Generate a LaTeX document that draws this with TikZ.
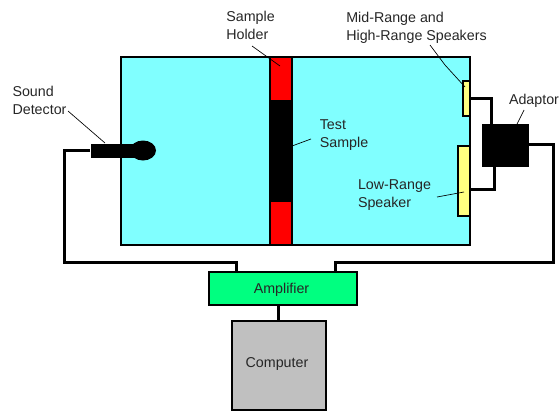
\documentclass[tikz,border=0pt]{standalone}
\usepackage{fontspec}
\setmainfont{Liberation Sans}
\newcommand{\pxw}[1]{#1*0.75pt}
\definecolor{chambercol}{HTML}{80FFFF}
\definecolor{holdercol}{HTML}{FF0000}
\definecolor{speakercol}{HTML}{FFFF80}
\definecolor{ampcol}{HTML}{00FF80}
\definecolor{compcol}{HTML}{C0C0C0}
\tikzset{
  x=0.75pt,y=-0.75pt,
  box/.style={draw=black,line width=1.5pt,inner sep=0pt,outer sep=0pt},
  solid block/.style={fill=black,draw=none,inner sep=0pt,outer sep=0pt},
  wire/.style={draw=black,line width=2.25pt,line join=miter},
  leader/.style={draw=black,line width=0.5pt},
  lbl/.style={font=\fontsize{10.7pt}{13.5pt}\selectfont,align=left,inner sep=0pt,text=black!85},
}
\begin{document}
\begin{tikzpicture}
\useasboundingbox (0,0) rectangle (559,411);
% chamber
\node[box,fill=chambercol,minimum width=\pxw{349},minimum height=\pxw{188}] (chamber) at (295.5,151) {};
% holder
\node[box,fill=holdercol,minimum width=\pxw{22},minimum height=\pxw{188}] (holder) at (281,151) {};
\node[solid block,minimum width=\pxw{22},minimum height=\pxw{102}] (sample) at (281,151) {};
% speakers
\node[box,fill=speakercol,minimum width=\pxw{7},minimum height=\pxw{35}] (mid) at (466.5,98.5) {};
\node[box,fill=speakercol,minimum width=\pxw{12},minimum height=\pxw{70}] (low) at (464,181) {};
\node[solid block,minimum width=\pxw{47},minimum height=\pxw{43}] (adaptor) at (505.5,145) {};
% microphone
\node[solid block,minimum width=\pxw{48},minimum height=\pxw{14}] (micbody) at (114.5,150.5) {};
\fill[black] (143,150.5) ellipse [x radius=13, y radius=10];
\coordinate (mic) at (90,150);
% amplifier and computer
\node[box,fill=ampcol,minimum width=\pxw{148},minimum height=\pxw{33}] (amp) at (283,288.5) {};
\node[box,fill=compcol,minimum width=\pxw{94},minimum height=\pxw{89}] (comp) at (279,365.5) {};
\node[lbl] (lamp) at (281.5,290) {Amplifier};
\node[lbl] (lcomp) at (277,364) {Computer};
% wires
\coordinate (ampL) at (236,272);
\coordinate (ampR) at (335,272);
\coordinate (ampB) at (278,305);
\coordinate (compT) at (278,321);
\draw[wire] (mic) -- (64,150) -- (64,262) -- (236,262) -- (ampL);
\draw[wire] (ampR) -- (335,262) -- (553,262) -- (553,144) -- (adaptor.east |- 0,144);
\draw[wire] (ampB) -- (compT);
\draw[wire] (mid.east |- 0,98) -- (491,98) -- (491,124);
\draw[wire] (low.east |- 0,189) -- (494,189) -- (494,166);
% labels
\node[lbl] (lsound) at (39.5,100) {Sound\\Detector};
\node[lbl] (lholder) at (250.5,25) {Sample\\Holder};
\node[lbl] (lmid) at (416.5,27.5) {Mid-Range and\\High-Range Speakers};
\node[lbl] (ladapt) at (534,101) {Adaptor};
\node[lbl] (ltest) at (344,135) {Test\\Sample};
\node[lbl] (llow) at (394.5,195.5) {Low-Range\\Speaker};
% leaders
\coordinate (a1) at (68,111); \coordinate (b1) at (105,143);
\coordinate (a2) at (252,46); \coordinate (b2) at (280,66);
\coordinate (a3) at (311,139); \coordinate (b3) at (292,146);
\coordinate (a4) at (437,197); \coordinate (b4) at (464,192);
\coordinate (a5) at (430,45); \coordinate (m5) at (445,65); \coordinate (b5) at (465,87);
\coordinate (a6) at (524,110); \coordinate (b6) at (517,124);
\draw[leader] (a1) -- (b1);
\draw[leader] (a2) -- (b2);
\draw[leader] (a3) -- (b3);
\draw[leader] (a4) -- (b4);
\draw[leader] (a5) -- (m5) -- (b5);
\draw[leader] (a6) -- (b6);
\end{tikzpicture}
\end{document}
